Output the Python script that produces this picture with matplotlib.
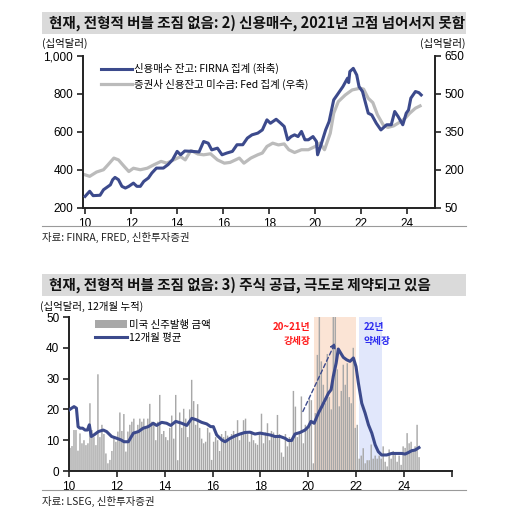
import matplotlib
matplotlib.use("Agg")
import matplotlib.pyplot as plt
import numpy as np
from matplotlib.patches import Rectangle
from matplotlib.lines import Line2D

KR = ['Noto Sans CJK KR', 'DejaVu Sans']
NUM = ['Liberation Sans', 'DejaVu Sans']
plt.rcParams['font.family'] = KR

# ---------------- data: panel 1 ----------------
margin_x = [10.0,10.2,10.35,10.65,10.8,11.1,11.2,11.3,11.45,11.6,11.75,11.9,12.1,12.25,12.4,12.55,12.75,12.9,
            13.1,13.4,13.6,13.8,14.0,14.15,14.33,14.65,14.95,15.15,15.35,15.5,15.75,15.95,16.15,16.4,16.6,16.85,
            17.05,17.25,17.5,17.7,17.9,18.05,18.3,18.5,18.65,18.8,18.95,19.1,19.25,19.4,19.55,19.7,19.9,20.05,
            20.1,20.25,20.45,20.6,20.8,20.95,21.2,21.4,21.45,21.5,21.65,21.8,21.9,22.05,22.3,22.45,22.65,22.85,
            23.1,23.3,23.45,23.6,23.8,23.95,24.05,24.15,24.35,24.5,24.6]
margin_v = [261,288,265,267,296,322,349,361,349,314,305,314,331,314,314,340,358,384,
            410,410,428,454,498,480,500,498,495,550,541,506,515,480,489,498,533,533,
            568,585,594,611,664,646,667,646,629,559,576,585,576,603,559,559,576,550,
            480,533,611,655,769,795,839,883,860,918,935,900,839,813,699,690,646,611,
            638,638,708,681,638,699,716,778,813,807,795]

fed_x = [10.0,10.2,10.5,10.8,11.0,11.25,11.45,11.7,11.9,12.1,12.4,12.7,13.0,13.3,13.55,13.85,14.15,14.35,
         14.6,14.9,15.15,15.45,15.75,16.05,16.3,16.7,16.9,17.2,17.5,17.7,17.9,18.15,18.4,18.65,18.85,19.1,
         19.4,19.7,20.0,20.2,20.4,20.65,20.8,21.0,21.3,21.6,21.95,22.1,22.3,22.5,22.7,22.95,23.15,23.4,
         23.6,23.9,24.1,24.35,24.55]
fed_v = [181,175,192,201,221,247,240,214,194,207,201,207,221,234,227,240,253,240,
         277,263,260,264,240,227,230,247,227,247,260,267,293,306,299,303,280,269,
         280,280,293,306,280,345,424,470,496,516,523,519,483,466,418,378,368,374,
         385,404,424,444,453]

# ---------------- data: panel 2 ----------------
issuance = [7.5, 8.1, 13.3, 13.3, 6.6, 12.2, 9.0, 10.0, 8.4, 9.0, 22.0, 13.3,
            11.0, 8.4, 31.4, 11.0, 15.0, 12.0, 5.7, 2.5, 3.6, 6.5, 10.6, 9.5,
            12.8, 19.0, 13.0, 18.5, 6.3, 12.8, 15.0, 16.0, 17.0, 12.8, 15.0, 17.0,
            16.0, 17.0, 14.0, 17.0, 21.8, 16.0, 15.0, 10.0, 16.0, 24.7, 12.0, 13.0,
            11.0, 10.0, 14.0, 18.0, 10.5, 24.7, 3.5, 19.0, 14.0, 20.2, 17.0, 11.0,
            20.0, 29.6, 22.7, 15.0, 21.7, 14.0, 10.5, 9.0, 9.5, 14.0, 12.5, 3.6,
            9.5, 11.0, 10.0, 6.5, 12.0, 11.0, 13.0, 11.5, 10.0, 12.0, 13.0, 12.0,
            16.5, 10.0, 12.5, 16.5, 17.0, 12.0, 9.5, 13.0, 10.0, 9.0, 8.5, 12.0,
            18.6, 9.0, 12.5, 15.5, 10.0, 13.0, 12.5, 11.0, 18.2, 12.0, 6.0, 4.6,
            12.0, 8.0, 11.0, 10.5, 26.0, 20.9, 11.0, 12.0, 24.2, 9.0, 15.0, 14.0,
            23.4, 23.0, 2.5, 18.8, 37.7, 50.0, 35.6, 28.0, 22.0, 38.0, 24.0, 20.0,
            50.0, 50.0, 33.0, 21.0, 26.0, 34.5, 28.0, 35.0, 24.0, 22.0, 40.0, 14.0,
            15.0, 4.0, 5.0, 7.4, 2.5, 3.5, 3.5, 8.6, 4.0, 5.0, 4.0, 5.0,
            4.0, 8.0, 3.0, 1.5, 7.0, 4.0, 6.5, 6.0, 3.0, 5.0, 2.0, 8.0,
            7.5, 12.3, 9.0, 9.5, 7.0, 8.0, 15.0, 4.5]
issue_start = 2010

avg_x = [10.0,10.11,10.21,10.31,10.38,10.46,10.57,10.67,10.77,10.85,10.93,11.04,11.23,11.43,11.57,11.78,
         12.0,12.17,12.3,12.48,12.69,12.9,13.1,13.31,13.52,13.66,13.87,14.08,14.25,14.46,14.71,14.92,
         15.13,15.33,15.54,15.75,15.92,16.03,16.17,16.38,16.52,16.73,16.94,17.14,17.35,17.56,17.77,17.98,
         18.19,18.4,18.61,18.82,19.03,19.16,19.3,19.44,19.65,19.86,20.0,20.11,20.24,20.42,20.56,20.7,
         20.84,20.95,21.04,21.16,21.25,21.35,21.46,21.6,21.74,21.88,21.99,22.09,22.23,22.37,22.51,22.65,
         22.79,22.92,23.06,23.27,23.48,23.69,23.9,24.04,24.18,24.32,24.46,24.62]
avg_v = [19.8,20.4,20.9,20.4,14.4,13.9,13.9,13.3,13.3,15.0,11.2,11.7,12.8,13.3,12.8,11.2,
         10.6,10.1,9.5,9.5,12.3,12.8,13.9,14.4,15.5,14.8,15.8,15.5,14.8,16.1,15.5,14.8,
         17.1,16.6,15.8,15.3,14.4,14.4,11.7,10.1,9.5,10.6,11.4,12.0,12.5,12.6,12.0,12.3,
         12.0,11.7,11.2,11.2,10.6,9.9,9.9,12.0,12.5,13.3,14.4,16.1,15.5,18.8,20.9,23.1,
         25.3,26.4,30.7,35.0,39.6,38.3,36.9,36.1,35.6,36.7,33.9,28.5,22.0,18.8,15.0,12.3,
         8.5,6.3,5.2,5.2,5.7,5.7,5.7,5.5,6.0,6.6,6.8,7.6]

bull_span = (20.24, 21.99)
bear_span = (22.12, 23.08)

BLUE = '#3C4A8C'
GRAY_LINE = '#BBBBBB'
BAR = '#A8A8A8'
SPINE = '#222222'

W, H = 506, 509
fig = plt.figure(figsize=(W/100, H/100), dpi=100)

def fx(px): return px / W
def fy(py): return 1 - py / H

# title bars
for (y0, y1, txt) in [(12, 34, '현재, 전형적 버블 조짐 없음: 2) 신용매수, 2021년 고점 넘어서지 못함'),
                      (274, 296, '현재, 전형적 버블 조짐 없음: 3) 주식 공급, 극도로 제약되고 있음')]:
    fig.patches.append(Rectangle((fx(42), fy(y1)), fx(466) - fx(42), fy(y0) - fy(y1),
                                 transform=fig.transFigure, facecolor='#DADADA', edgecolor='none', zorder=0))
    fig.text(fx(49), (fy(y0) + fy(y1)) / 2, txt, fontsize=10.5, fontweight='bold',
             va='center', ha='left', color='#111111')

# separator lines and sources
for yy, txt in [(226, '자료: FINRA, FRED, 신한투자증권'), (490, '자료: LSEG, 신한투자증권')]:
    fig.add_artist(Line2D([fx(42), fx(466)], [fy(yy), fy(yy)], transform=fig.transFigure,
                          color='#9A9A9A', lw=0.8))
    fig.text(fx(42), fy(yy + 11), txt, fontsize=7.5, va='center', ha='left', color='#222222')

# ---------------- panel 1 ----------------
ax1 = fig.add_axes([fx(83), fy(208), fx(435) - fx(83), fy(56) - fy(208)])
ax2 = ax1.twinx()
ax1.plot(margin_x, margin_v, color=BLUE, lw=2.2, zorder=3, label='신용매수 잔고: FIRNA 집계 (좌축)')
ax2.plot(fed_x, fed_v, color=GRAY_LINE, lw=2.3, zorder=2, label='증권사 신용잔고 미수금: Fed 집계 (우축)')
ax1.set_zorder(ax2.get_zorder() + 1)
ax1.patch.set_visible(False)
ax1.set_xlim(9.91, 25.2)
ax1.set_ylim(200, 1000)
ax2.set_ylim(50, 650)
ax1.set_yticks([200, 400, 600, 800, 1000])
ax1.set_yticklabels(['200', '400', '600', '800', '1,000'])
ax2.set_yticks([50, 200, 350, 500, 650])
ax1.set_xticks([10, 12, 14, 16, 18, 20, 22, 24])
for a in (ax1, ax2):
    for s in a.spines.values():
        s.set_visible(False)
ax1.spines['left'].set_visible(True)
ax1.spines['bottom'].set_visible(True)
ax2.spines['right'].set_visible(True)
for a in (ax1, ax2):
    for s in ('left', 'bottom', 'right'):
        a.spines[s].set_color(SPINE)
        a.spines[s].set_linewidth(1.4)
    a.tick_params(direction='out', length=4, width=1.2, color=SPINE, labelsize=8.5, pad=3)
    for lab in a.get_xticklabels() + a.get_yticklabels():
        lab.set_family(NUM)
fig.text(fx(65), fy(43), '(십억달러)', fontsize=7.5, ha='center', va='center')
fig.text(fx(443), fy(43), '(십억달러)', fontsize=7.5, ha='center', va='center')
h1, l1 = ax1.get_legend_handles_labels()
h2, l2 = ax2.get_legend_handles_labels()
ax1.legend(h1 + h2, l1 + l2, loc='upper left', bbox_to_anchor=(0.03, 1.0), frameon=False,
           fontsize=7.5, handlelength=3.0, handletextpad=0.2, labelspacing=0.45, borderaxespad=0.3)

# ---------------- panel 2 ----------------
ax3 = fig.add_axes([fx(69), fy(471), fx(452) - fx(69), fy(317) - fy(471)])
m = np.arange(len(issuance))
bar_x = (issue_start - 2000) + m / 12 + 1 / 24
ax3.axvspan(*bull_span, color='#FBE4D5', zorder=0, lw=0)
ax3.axvspan(*bear_span, color='#E1E7FB', zorder=0, lw=0)
bars = ax3.bar(bar_x, issuance, width=0.72 / 12, color=BAR, zorder=1, lw=0)
for b in bars:
    b.set_snap(False)
line, = ax3.plot(avg_x, avg_v, color=BLUE, lw=2.2, zorder=3)
ax3.set_xlim(10, 26)
ax3.set_ylim(0, 50)
ax3.set_yticks([0, 10, 20, 30, 40, 50])
ax3.set_xticks([10, 12, 14, 16, 18, 20, 22, 24, 26])
ax3.set_xticklabels(['10', '12', '14', '16', '18', '20', '22', '24', ''])
for s in ('top', 'right'):
    ax3.spines[s].set_visible(False)
for s in ('left', 'bottom'):
    ax3.spines[s].set_color(SPINE)
    ax3.spines[s].set_linewidth(1.4)
ax3.tick_params(direction='out', length=4, width=1.2, color=SPINE, labelsize=8.5, pad=3)
for lab in ax3.get_xticklabels() + ax3.get_yticklabels():
    lab.set_family(NUM)
fig.text(fx(92), fy(306), '(십억달러, 12개월 누적)', fontsize=7.5, ha='center', va='center')
ax3.legend([bars, line], ['미국 신주발행 금액', '12개월 평균'], loc='upper left',
           bbox_to_anchor=(0.05, 1.03), frameon=False, fontsize=7.5,
           handlelength=3.0, handletextpad=0.2, labelspacing=0.3, borderaxespad=0.3)
ax3.annotate('', xy=(21.18, 42.6), xytext=(19.72, 18.5),
             arrowprops=dict(arrowstyle='-|>', color=BLUE, lw=1.0, linestyle=(0, (3, 2)),
                             mutation_scale=8), zorder=4)
ax3.text(20.1, 46.8, '20~21년', color='#FF1A1A', fontsize=7, fontweight='bold', ha='right', va='center')
ax3.text(20.1, 42.2, '강세장', color='#FF1A1A', fontsize=7, fontweight='bold', ha='right', va='center')
ax3.text(22.3, 46.8, '22년', color='#2A2AF0', fontsize=7, fontweight='bold', ha='left', va='center')
ax3.text(22.3, 42.2, '약세장', color='#2A2AF0', fontsize=7, fontweight='bold', ha='left', va='center')

fig.savefig('out.png', dpi=100)
